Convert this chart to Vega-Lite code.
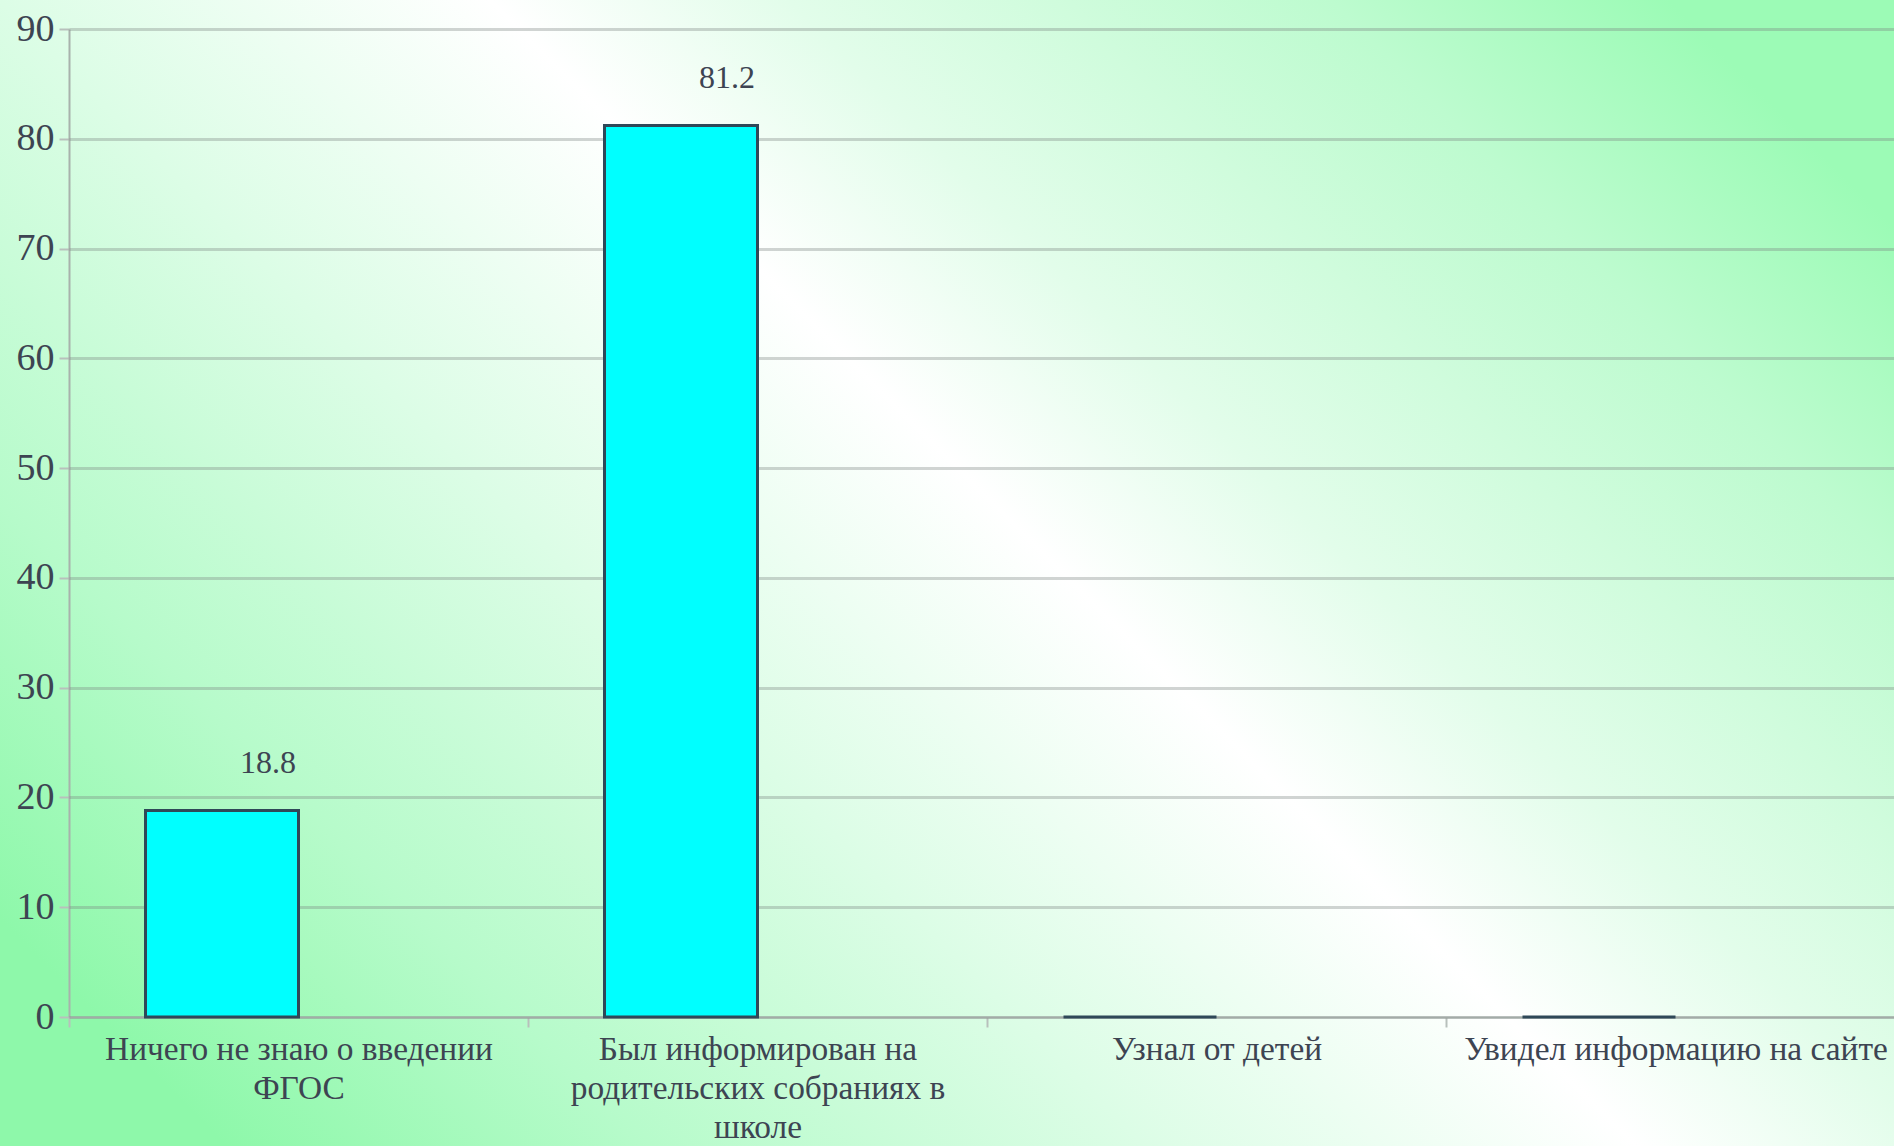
{
  "$schema": "https://vega.github.io/schema/vega-lite/v6.json",
  "width": 1894,
  "height": 1146,
  "autosize": {"type": "none"},
  "padding": 0,
  "config": {
    "font": "Liberation Serif",
    "view": {
      "stroke": null,
      "fill": {
        "gradient": "linear",
        "x1": 0, "y1": 0.8025, "x2": 1, "y2": 0.1975,
        "stops": [
          {"offset": 0, "color": "#8ef8aa"},
          {"offset": 0.16, "color": "#b6fbca"},
          {"offset": 0.355, "color": "#dcfde6"},
          {"offset": 0.545, "color": "#ffffff"},
          {"offset": 0.66, "color": "#e2fdea"},
          {"offset": 0.87, "color": "#bdfbcf"},
          {"offset": 1, "color": "#9cfbb6"}
        ]
      }
    }
  },
  "data": {
    "values": [
      {"answer": "Ничего не знаю о введении ФГОС", "percent": 18.8},
      {"answer": "Был информирован на родительских собраниях в школе", "percent": 81.2},
      {"answer": "Узнал от детей", "percent": 0},
      {"answer": "Увидел информацию на сайте", "percent": 0}
    ]
  },
  "encoding": {
    "x": {
      "field": "answer",
      "type": "nominal",
      "sort": null,
      "scale": {"range": [69, 1905], "paddingInner": 0, "paddingOuter": 0},
      "axis": {
        "title": null,
        "orient": "bottom",
        "offset": -129,
        "tickBand": "extent",
        "tickSize": 10,
        "tickWidth": 2,
        "tickColor": "#b8c0bc",
        "domainColor": "#b8c0bc",
        "domainWidth": 2,
        "labelAngle": 0,
        "labelFont": "Liberation Serif",
        "labelFontSize": 33.4,
        "labelColor": "#3d4452",
        "labelLimit": 0,
        "labelLineHeight": 39,
        "labelPadding": 6,
        "labelOverlap": false,
        "labelBound": false,
        "labelFlush": false,
        "labelExpr": "datum.label == 'Ничего не знаю о введении ФГОС' ? ['Ничего не знаю о введении', 'ФГОС'] : datum.label == 'Был информирован на родительских собраниях в школе' ? ['Был информирован на', 'родительских собраниях в', 'школе'] : datum.label"
      }
    },
    "xOffset": {"datum": "a", "scale": {"domain": ["a", "b"], "paddingInner": 0, "paddingOuter": 0.5}}
  },
  "layer": [
    {
      "mark": {"type": "bar", "fill": "#00ffff", "stroke": "#2f4858", "strokeWidth": 3},
      "encoding": {
        "y": {
          "field": "percent",
          "type": "quantitative",
          "scale": {"domain": [0, 90], "range": [1017, 29], "nice": false, "zero": true},
          "axis": {
            "orient": "left",
            "offset": -69,
            "values": [0, 10, 20, 30, 40, 50, 60, 70, 80, 90],
            "title": null,
            "grid": false,
            "domain": true,
            "domainColor": "#a8b2ac",
            "domainWidth": 2,
            "ticks": true,
            "tickSize": 10,
            "tickColor": "#b8c0bc",
            "tickWidth": 2,
            "labelFont": "Liberation Serif",
            "labelFontSize": 38,
            "labelColor": "#3d4452",
            "labelPadding": 5
          }
        }
      }
    },
    {
      "transform": [{"filter": "datum.percent > 0"}],
      "mark": {"type": "text", "font": "Liberation Serif", "fontSize": 32, "color": "#3d4452", "baseline": "middle", "dx": 46, "dy": -48},
      "encoding": {
        "y": {
          "field": "percent",
          "type": "quantitative",
          "scale": {"domain": [0, 90], "range": [1017, 29], "nice": false, "zero": true},
          "axis": {
            "orient": "left",
            "offset": -69,
            "values": [0, 10, 20, 30, 40, 50, 60, 70, 80, 90],
            "title": null,
            "labels": false,
            "domain": false,
            "grid": false,
            "ticks": true,
            "tickSize": -1825,
            "tickColor": "#7a8480",
            "tickOpacity": 0.35,
            "tickWidth": 3
          }
        },
        "text": {"field": "percent", "type": "quantitative", "format": ".1f"}
      }
    }
  ],
  "resolve": {"scale": {"y": "independent"}}
}
